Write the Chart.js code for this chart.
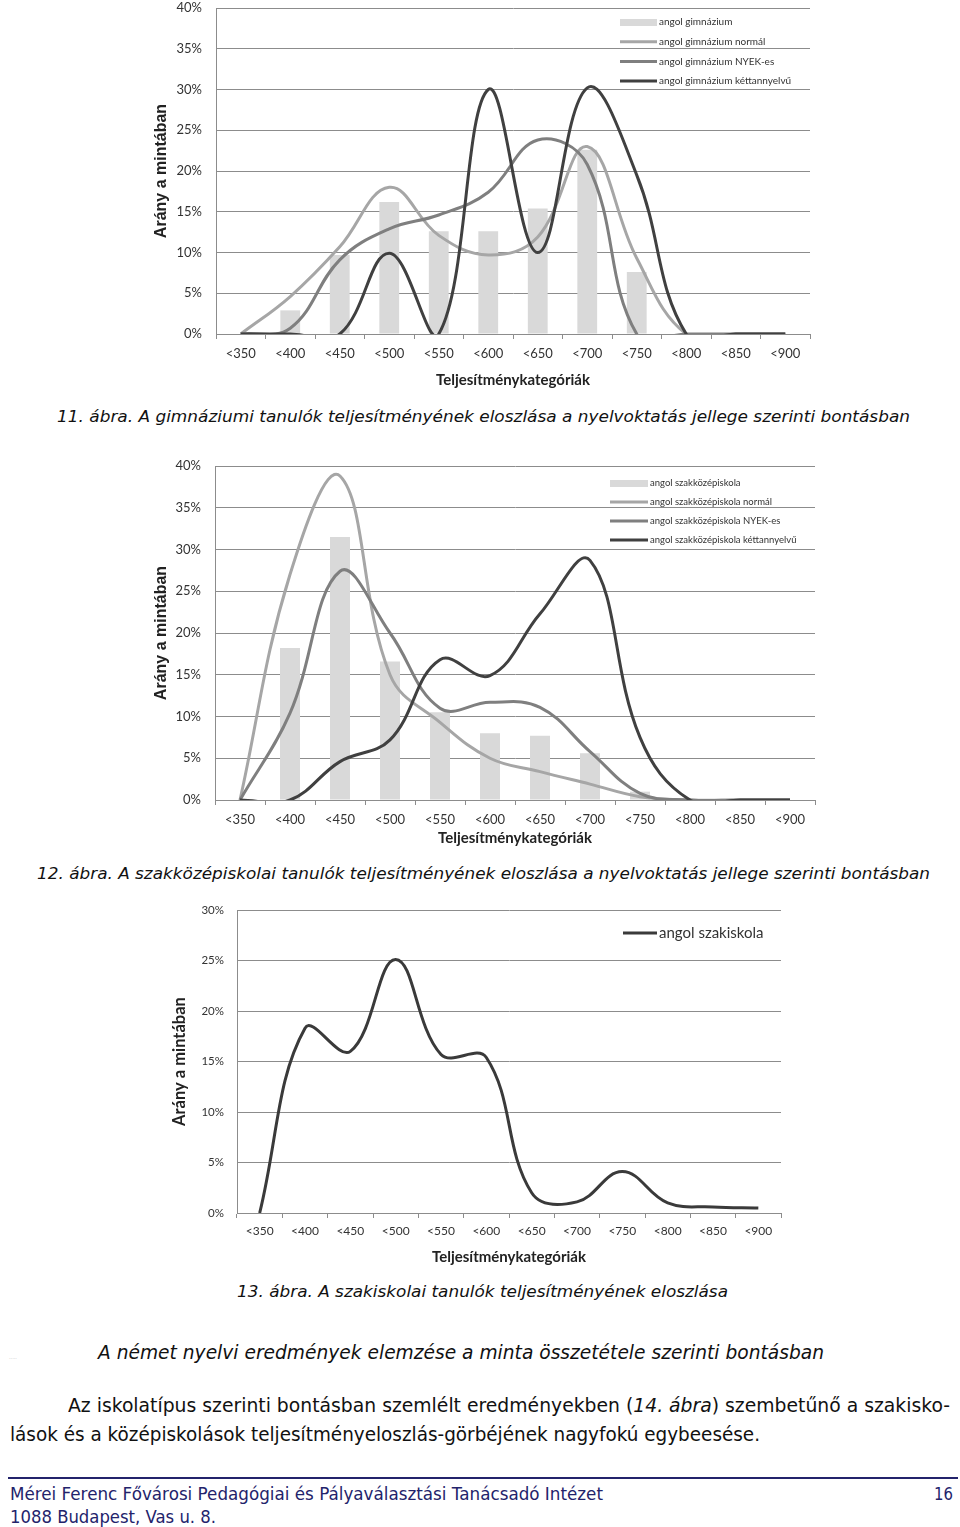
<!DOCTYPE html>
<html lang="hu">
<head>
<meta charset="utf-8">
<title>Teljesítményeloszlás</title>
<script src="https://cdn.jsdelivr.net/npm/chart.js@4/dist/chart.umd.min.js"></script>
<style>
  html, body { margin: 0; padding: 0; background: #fff; }
  #page { position: relative; width: 960px; height: 1527px; overflow: hidden; background: #fff; }
  canvas { position: absolute; }
  .t { position: absolute; white-space: nowrap; transform-origin: 0 0; display: inline-block; font-family: "DejaVu Sans", sans-serif; color: #111; }
  .cap { font-size: 15px; line-height: 18px; font-style: italic; }
  .big { font-size: 19px; line-height: 22px; }
  .foot { font-size: 18px; line-height: 22px; color: #23236b; }
</style>
</head>
<body>
<div id="page">
  <canvas id="chartGimn"></canvas>
  <canvas id="chartSzk"></canvas>
  <canvas id="chartSzak"></canvas>

  <div class="t cap" style="left:57px;top:408px" data-w="853">11. ábra. A gimnáziumi tanulók teljesítményének eloszlása a nyelvoktatás jellege szerinti bontásban</div>
  <div class="t cap" style="left:37px;top:865px" data-w="893">12. ábra. A szakközépiskolai tanulók teljesítményének eloszlása a nyelvoktatás jellege szerinti bontásban</div>
  <div class="t cap" style="left:237px;top:1283px" data-w="491">13. ábra. A szakiskolai tanulók teljesítményének eloszlása</div>
  <div class="t" style="left:9px;top:1354px;font-size:5px;color:#bbb">.....</div>
  <div class="t big" style="left:98px;top:1341px;font-style:italic" data-w="726">A német nyelvi eredmények elemzése a minta összetétele szerinti bontásban</div>
  <div class="t big" style="left:68px;top:1394px" data-w="882">Az iskolatípus szerinti bontásban szemlélt eredményekben (<i>14. ábra</i>) szembetűnő a szakisko-</div>
  <div class="t big" style="left:10px;top:1423px" data-w="750">lások és a középiskolások teljesítményeloszlás-görbéjének nagyfokú egybeesése.</div>
  <div style="position:absolute;left:8px;top:1477px;width:950px;height:2px;background:#23236b"></div>
  <div class="t foot" style="left:10px;top:1483px" data-w="593">Mérei Ferenc Fővárosi Pedagógiai és Pályaválasztási Tanácsadó Intézet</div>
  <div class="t foot" style="left:934px;top:1483px" data-w="19">16</div>
  <div class="t foot" style="left:10px;top:1506px" data-w="206">1088 Budapest, Vas u. 8.</div>
</div>

<script>
// Kategóriák (közös)
const categories = ['<350', '<400', '<450', '<500', '<550', '<600', '<650', '<700', '<750', '<800', '<850', '<900'];
const yTicks40 = ['0%', '5%', '10%', '15%', '20%', '25%', '30%', '35%', '40%'];
const yTicks30 = ['0%', '5%', '10%', '15%', '20%', '25%', '30%'];

// 11. ábra - gimnázium
const gimnLabels = ['angol gimnázium', 'angol gimnázium normál', 'angol gimnázium NYEK-es', 'angol gimnázium kéttannyelvű'];
const gimnBars = [0, 2.9, 9.7, 16.2, 12.6, 12.6, 15.4, 22.6, 7.6, 0, 0, 0];
const gimnNormal = [0, 4.6, 10.7, 18.0, 12.1, 9.7, 11.9, 23.0, 9.3, 0, 0, 0];
const gimnNyek = [0, 0.7, 9.1, 12.9, 14.6, 17.4, 23.8, 20.8, 0, 0, 0, 0];
const gimnKet = [0, 0, 0, 9.9, 0, 30.0, 10.0, 30.2, 19.5, 0, 0, 0];

// 12. ábra - szakközépiskola
const szkLabels = ['angol szakközépiskola', 'angol szakközépiskola normál', 'angol szakközépiskola NYEK-es', 'angol szakközépiskola kéttannyelvű'];
const szkBars = [0, 18.2, 31.5, 16.6, 10.5, 8.0, 7.7, 5.6, 1.0, 0, 0, 0];
const szkNormal = [0, 27.0, 38.8, 15.0, 9.3, 5.0, 3.4, 1.9, 0.4, 0, 0, 0];
const szkNyek = [0, 10.4, 27.4, 20.0, 11.0, 11.7, 11.1, 5.8, 0.8, 0, 0, 0];
const szkKet = [0, 0, 4.6, 7.2, 16.8, 14.9, 22.3, 28.7, 7.5, 0, 0, 0];

// 13. ábra - szakiskola
const szakLabel = 'angol szakiskola';
const szakData = [0, 18.3, 16.0, 25.1, 15.7, 15.4, 2.0, 1.1, 4.1, 1.0, 0.6, 0.5];

const GRID = '#8c8c8c';
const TEXT = '#333';

// Jelmagyarázat a rajzterületen belül
const insideLegend = {
  id: 'insideLegend',
  afterDatasetsDraw(chart, args, opts) {
    const ctx = chart.ctx;
    ctx.save();
    ctx.font = opts.font;
    ctx.textBaseline = 'middle';
    chart.data.datasets.forEach((ds, i) => {
      const y = opts.y + i * opts.step;
      if (ds.type === 'bar') {
        ctx.fillStyle = ds.backgroundColor;
        ctx.fillRect(opts.x, y - 3, opts.swatch, 7);
      } else {
        ctx.strokeStyle = ds.borderColor;
        ctx.lineWidth = ds.borderWidth;
        ctx.beginPath();
        ctx.moveTo(opts.x, y);
        ctx.lineTo(opts.x + opts.swatch, y);
        ctx.stroke();
      }
      ctx.fillStyle = TEXT;
      ctx.fillText(ds.label, opts.x + opts.swatch + 2, y);
    });
    ctx.restore();
  }
};

function lineSet(label, data, color, order) {
  return {
    type: 'line', label: label, data: data,
    borderColor: color, borderWidth: 3, pointRadius: 0,
    tension: 0.4, fill: false, order: order
  };
}

function placeCanvas(id, box) {
  const c = document.getElementById(id);
  c.style.left = box.left + 'px';
  c.style.top = box.top + 'px';
  c.style.width = box.width + 'px';
  c.style.height = box.height + 'px';
  c.width = box.width;
  c.height = box.height;
  return c;
}

function makeChart(id, box, datasets, s) {
  const canvas = placeCanvas(id, box);
  return new Chart(canvas.getContext('2d'), {
    type: 'bar',
    data: { labels: categories, datasets: datasets },
    options: {
      responsive: false,
      animation: false,
      events: [],
      layout: { padding: { left: 0, right: s.padRight, top: 8, bottom: 0 } },
      elements: { line: { capBezierPoints: false } },
      plugins: {
        legend: { display: false },
        tooltip: { enabled: false },
        insideLegend: s.legend
      },
      scales: {
        x: {
          offset: true,
          grid: { display: true, drawOnChartArea: false, drawTicks: true, tickLength: 5, offset: true, color: GRID },
          border: { display: true, color: GRID },
          ticks: { color: TEXT, font: { family: 'Lato', size: s.xTickSize }, padding: s.xTickPad, autoSkip: false, maxRotation: 0 },
          title: { display: true, text: 'Teljesítménykategóriák', color: '#222', font: { family: 'Lato', size: 15, weight: 'bold' }, padding: { top: 0, bottom: 6 } },
          afterFit: sc => { sc.height = s.xHeight; sc.paddingLeft = 0; sc.paddingRight = 0; }
        },
        y: {
          min: 0, max: s.max,
          grid: { color: GRID, drawTicks: false },
          border: { display: true, color: GRID },
          ticks: { stepSize: 5, color: TEXT, font: { family: 'Lato', size: s.yTickSize }, padding: s.yTickPad, callback: (v, i) => s.yTicks[i] },
          title: { display: true, text: 'Arány a mintában', color: '#222', font: { family: s.yTitleFont, size: s.yTitleSize, weight: 'bold' }, padding: { top: s.yTitlePad, bottom: 0 } },
          afterFit: sc => { sc.width = s.yWidth; sc.paddingTop = 0; sc.paddingBottom = 0; }
        }
      }
    },
    plugins: [insideLegend]
  });
}

function gimnDatasets() {
  return [
    { type: 'bar', label: gimnLabels[0], data: gimnBars, backgroundColor: '#d9d9d9', barPercentage: 0.4, categoryPercentage: 1, order: 4 },
    lineSet(gimnLabels[1], gimnNormal, '#a6a6a6', 3),
    lineSet(gimnLabels[2], gimnNyek, '#7f7f7f', 2),
    lineSet(gimnLabels[3], gimnKet, '#404040', 1)
  ];
}

function szkDatasets() {
  return [
    { type: 'bar', label: szkLabels[0], data: szkBars, backgroundColor: '#d9d9d9', barPercentage: 0.4, categoryPercentage: 1, order: 4 },
    lineSet(szkLabels[1], szkNormal, '#a6a6a6', 3),
    lineSet(szkLabels[2], szkNyek, '#7f7f7f', 2),
    lineSet(szkLabels[3], szkKet, '#404040', 1)
  ];
}

makeChart('chartGimn', { left: 140, top: 0, width: 680, height: 395 }, gimnDatasets(), {
  padRight: 10, max: 40, yTicks: yTicks40, xHeight: 61, yWidth: 76,
  xTickSize: 13, xTickPad: 7, yTickSize: 13, yTickPad: 14,
  yTitleFont: 'Liberation Sans', yTitleSize: 16, yTitlePad: 12,
  legend: { x: 480, y: 22, step: 19.7, swatch: 37, font: '10px Lato' }
});

makeChart('chartSzk', { left: 140, top: 458, width: 680, height: 395 }, szkDatasets(), {
  padRight: 5, max: 40, yTicks: yTicks40, xHeight: 53, yWidth: 75,
  xTickSize: 13, xTickPad: 7, yTickSize: 13, yTickPad: 14,
  yTitleFont: 'Liberation Sans', yTitleSize: 16, yTitlePad: 12,
  legend: { x: 470, y: 25, step: 19, swatch: 38, font: '9.5px Lato' }
});

makeChart('chartSzak', { left: 150, top: 902, width: 640, height: 370 },
  [lineSet(szakLabel, szakData, '#3a3a3a', 1)], {
  padRight: 9, max: 30, yTicks: yTicks30, xHeight: 59, yWidth: 87,
  xTickSize: 12, xTickPad: 6, yTickSize: 11.5, yTickPad: 13,
  yTitleFont: 'Lato', yTitleSize: 16.5, yTitlePad: 20,
  legend: { x: 473, y: 31, step: 20, swatch: 34, font: '15px Lato' }
});

// Szövegek szélességének igazítása
document.querySelectorAll('[data-w]').forEach(el => {
  const w = el.getBoundingClientRect().width;
  el.style.transform = 'scaleX(' + (el.dataset.w / w) + ')';
});
</script>
</body>
</html>
